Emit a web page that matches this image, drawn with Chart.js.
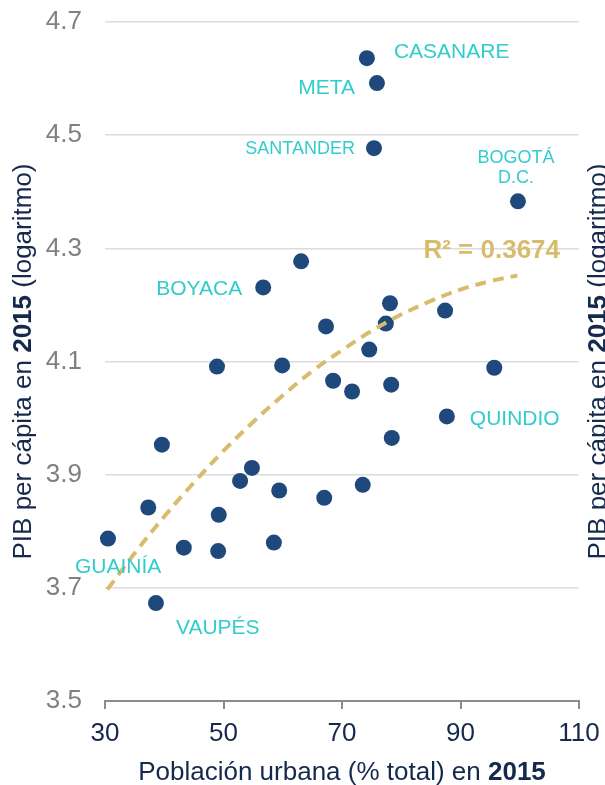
<!DOCTYPE html>
<html>
<head>
<meta charset="utf-8">
<script src="https://cdn.jsdelivr.net/npm/chart.js@4.4.1/dist/chart.umd.min.js"></script>
<style>
    html, body { margin: 0; padding: 0; background: #fff; overflow: hidden; }
</style>
</head>
<body>
<canvas id="chart" width="605" height="785"></canvas>
<script>
// Urbanización vs PIB per cápita (log) por departamento, 2015
const urbanPct = [74.2, 75.9, 75.4, 99.7, 63.1, 56.7, 78.1, 87.4, 67.3, 77.4, 74.6,
    95.7, 68.5, 71.7, 78.3, 87.7, 78.4, 73.5, 67.0, 48.9, 59.9, 39.6, 54.8, 52.8,
    59.4, 37.3, 49.2, 30.5, 43.3, 49.1, 58.5, 38.6];
const gdpLog = [4.636, 4.592, 4.477, 4.383, 4.277, 4.231, 4.203, 4.190, 4.162, 4.167, 4.121,
    4.089, 4.066, 4.047, 4.059, 4.003, 3.965, 3.882, 3.859, 4.091, 4.093, 3.953, 3.912, 3.889,
    3.872, 3.842, 3.829, 3.787, 3.771, 3.765, 3.780, 3.673];
const deptLabels = ['CASANARE', 'META', 'SANTANDER', 'BOGOTÁ\nD.C.', '', 'BOYACA', '', '', '', '', '',
    '', '', '', '', 'QUINDIO', '', '', '', '', '', '', '', '',
    '', '', '', 'GUAINÍA', '', '', '', 'VAUPÉS'];

// línea de tendencia polinómica
const trendX = [30.4, 35, 40, 45, 50, 55, 60, 65, 70, 75, 80, 85, 90, 95, 99.6];
const trendY = [3.697, 3.761, 3.826, 3.886, 3.942, 3.993, 4.040, 4.083, 4.120, 4.154, 4.183, 4.207, 4.227, 4.242, 4.252];
const r2Text = 'R² = 0.3674';

const xTicks = [30, 50, 70, 90, 110];
const yTicks = [3.5, 3.7, 3.9, 4.1, 4.3, 4.5, 4.7];

const xTitle = [['Población urbana (% total) en ', false], ['2015', true]];
const yTitle = [['PIB per cápita en ', false], ['2015', true], [' (logaritmo)', false]];

const FONT = '"Liberation Sans", Arial, sans-serif';
const NAVY = '#15294c';
const DOT = '#1f497d';
const CYAN = '#33cccc';
const GOLD = '#d8bb6c';

// where each department name sits relative to its dot
const labelPlace = {
    'CASANARE':     { dx: 27,  dy: -6, align: 'left',   size: 21 },
    'META':         { dx: -22, dy: 5,  align: 'right',  size: 21 },
    'SANTANDER':    { dx: -19, dy: 1,  align: 'right',  size: 18 },
    'BOGOTÁ\nD.C.': { dx: -2,  dy: -43, align: 'center', size: 18, lh: 20 },
    'BOYACA':       { dx: -21, dy: 2,  align: 'right',  size: 21 },
    'QUINDIO':      { dx: 23,  dy: 3,  align: 'left',   size: 21 },
    'GUAINÍA':      { dx: -33, dy: 29, align: 'left',   size: 21 },
    'VAUPÉS':       { dx: 20,  dy: 25, align: 'left',   size: 21 }
};

function drawMixed(ctx, parts, size) {
    let total = 0;
    const widths = parts.map(([t, b]) => {
        ctx.font = `${b ? 'bold ' : ''}${size}px ${FONT}`;
        const w = ctx.measureText(t).width;
        total += w;
        return w;
    });
    let x = -total / 2;
    parts.forEach(([t, b], i) => {
        ctx.font = `${b ? 'bold ' : ''}${size}px ${FONT}`;
        ctx.fillText(t, x, 0);
        x += widths[i];
    });
}

// no extra room for half tick labels: the layout padding alone sets the plot box
function noScalePadding(s) {
    s.paddingTop = 0;
    s.paddingBottom = 0;
    s.paddingLeft = 0;
    s.paddingRight = 0;
}

const annotations = {
    id: 'annotations',
    afterDatasetsDraw(chart) {
        const { ctx, scales } = chart;
        const meta = chart.getDatasetMeta(1);
        ctx.save();
        ctx.fillStyle = CYAN;
        ctx.textBaseline = 'middle';
        meta.data.forEach((pt, i) => {
            const name = deptLabels[i];
            if (!name) return;
            const p = labelPlace[name];
            ctx.font = `${p.size}px ${FONT}`;
            ctx.textAlign = p.align;
            name.split('\n').forEach((line, k) => {
                ctx.fillText(line, pt.x + p.dx, pt.y + p.dy + k * (p.lh || 0));
            });
        });
        // R²
        ctx.fillStyle = GOLD;
        ctx.font = `bold 26px ${FONT}`;
        ctx.textAlign = 'right';
        ctx.fillText(r2Text, scales.x.getPixelForValue(106.8), scales.y.getPixelForValue(4.296));
        ctx.restore();
    },
    afterDraw(chart) {
        const { ctx, chartArea } = chart;
        const midY = (chartArea.top + chartArea.bottom) / 2;
        ctx.save();
        ctx.fillStyle = NAVY;
        ctx.textBaseline = 'alphabetic';
        ctx.textAlign = 'left';
        // x title
        ctx.save();
        ctx.translate((chartArea.left + chartArea.right) / 2, 780);
        drawMixed(ctx, xTitle, 26);
        ctx.restore();
        // left y title
        ctx.save();
        ctx.translate(31, midY);
        ctx.rotate(-Math.PI / 2);
        drawMixed(ctx, yTitle, 26);
        ctx.restore();
        // right y title (cut by the edge of the picture)
        ctx.save();
        ctx.translate(606, midY);
        ctx.rotate(-Math.PI / 2);
        drawMixed(ctx, yTitle, 26);
        ctx.restore();
        ctx.restore();
    }
};

new Chart(document.getElementById('chart'), {
    type: 'scatter',
    data: {
        datasets: [
            {
                type: 'line',
                data: trendX.map((x, i) => ({ x, y: trendY[i] })),
                borderColor: GOLD,
                borderWidth: 4,
                borderDash: [11, 7],
                pointRadius: 0,
                tension: 0.4,
                fill: false
            },
            {
                data: urbanPct.map((x, i) => ({ x, y: gdpLog[i] })),
                backgroundColor: DOT,
                borderColor: DOT,
                borderWidth: 0,
                pointRadius: 8,
                pointHoverRadius: 8,
                clip: false
            }
        ]
    },
    options: {
        responsive: false,
        animation: false,
        layout: { padding: { top: 22, right: 26, left: 0, bottom: 0 } },
        plugins: { legend: { display: false }, tooltip: { enabled: false } },
        scales: {
            x: {
                type: 'linear',
                min: 30,
                max: 110,
                afterBuildTicks: s => { s.ticks = xTicks.map(v => ({ value: v })); },
                afterFit: s => { s.height = 84; noScalePadding(s); },
                border: { display: true, color: '#8c8c8c', width: 2 },
                grid: { drawOnChartArea: false, drawTicks: true, tickLength: 8, color: '#8c8c8c', lineWidth: 2 },
                ticks: { color: NAVY, font: { family: FONT, size: 26 }, padding: 9, maxRotation: 0 }
            },
            y: {
                type: 'linear',
                min: 3.5,
                max: 4.7,
                afterBuildTicks: s => { s.ticks = yTicks.map(v => ({ value: v })); },
                afterFit: s => { s.width = 105; noScalePadding(s); },
                border: { display: false },
                grid: {
                    drawTicks: false,
                    lineWidth: 1.5,
                    color: c => (c.tick && c.tick.value === 3.5) ? 'rgba(0,0,0,0)' : '#dcdcdc'
                },
                ticks: { color: '#808080', font: { family: FONT, size: 26 }, padding: 23, callback: v => v.toFixed(1) }
            }
        }
    },
    plugins: [annotations]
});
</script>
</body>
</html>
